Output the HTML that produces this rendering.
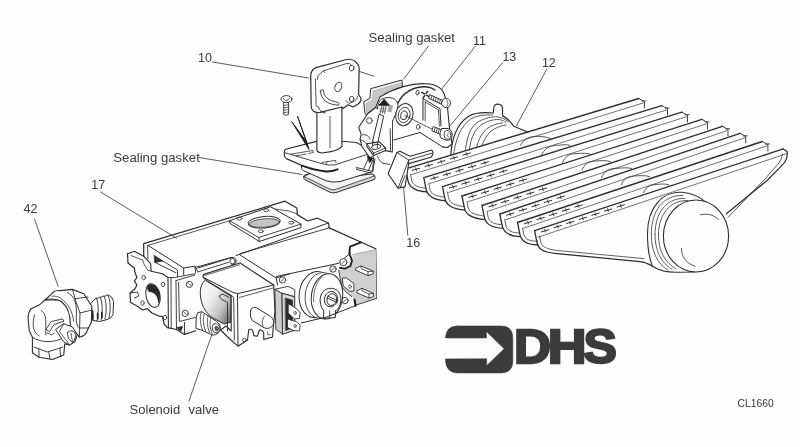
<!DOCTYPE html>
<html><head><meta charset="utf-8"><title>Exploded view CL1660</title>
<style>
html,body{margin:0;padding:0;background:#fefefe;}
body{width:800px;height:447px;overflow:hidden;font-family:"Liberation Sans",sans-serif;}
svg{display:block;will-change:transform;}
svg text{font-family:"Liberation Sans",sans-serif;}
</style></head><body>
<svg width="800" height="447" viewBox="0 0 800 447" stroke-linecap="round" stroke-linejoin="round">
<defs><filter id="soft" x="0" y="0" width="800" height="447" filterUnits="userSpaceOnUse"><feGaussianBlur stdDeviation="0.32"/></filter></defs>
<rect width="800" height="447" fill="#fefefe"/>
<g filter="url(#soft)">
<g id="labels">
<text x="198.1" y="61.8" font-size="12.5" fill="#3a3a3a" >10</text>
<text x="368.5" y="42.3" font-size="13.2" fill="#3a3a3a" >Sealing gasket</text>
<text x="473" y="45" font-size="12.5" fill="#3a3a3a" >11</text>
<text x="502.4" y="60.9" font-size="12.5" fill="#3a3a3a" >13</text>
<text x="541.9" y="66.9" font-size="12.5" fill="#3a3a3a" >12</text>
<text x="113.3" y="162" font-size="13.2" fill="#3a3a3a" >Sealing gasket</text>
<text x="91.2" y="189.2" font-size="12.5" fill="#3a3a3a" >17</text>
<text x="23.6" y="212.5" font-size="12.5" fill="#3a3a3a" >42</text>
<text x="406.2" y="247" font-size="12.5" fill="#3a3a3a" >16</text>
<text x="129.6" y="413.6" font-size="13" fill="#3a3a3a" >Solenoid</text>
<text x="188.6" y="413.6" font-size="13" fill="#3a3a3a" >valve</text>
<text x="737.6" y="407.4" font-size="10.3" fill="#3a3a3a" >CL1660</text>
<line x1="212.5" y1="62.0" x2="308.5" y2="78.0" stroke="#4a4a4a" stroke-width="0.9" />
<line x1="428.4" y1="46.1" x2="403.6" y2="79.1" stroke="#4a4a4a" stroke-width="0.9" />
<line x1="475.0" y1="46.5" x2="442.0" y2="88.7" stroke="#4a4a4a" stroke-width="0.9" />
<line x1="502.6" y1="62.6" x2="449.0" y2="127.0" stroke="#4a4a4a" stroke-width="0.9" />
<line x1="546.6" y1="69.5" x2="516.4" y2="125.9" stroke="#4a4a4a" stroke-width="0.9" />
<line x1="199.0" y1="157.5" x2="302.0" y2="174.5" stroke="#4a4a4a" stroke-width="0.9" />
<line x1="100.5" y1="192.0" x2="173.0" y2="236.0" stroke="#4a4a4a" stroke-width="0.9" />
<line x1="34.5" y1="219.0" x2="58.0" y2="286.0" stroke="#4a4a4a" stroke-width="0.9" />
<line x1="403.6" y1="187.5" x2="407.8" y2="235.3" stroke="#4a4a4a" stroke-width="0.9" />
<line x1="212.0" y1="334.0" x2="189.0" y2="401.0" stroke="#4a4a4a" stroke-width="0.9" />
<line x1="358.7" y1="71.2" x2="373.7" y2="76.2" stroke="#4a4a4a" stroke-width="0.9" />
</g>
<g id="burner">
<path d="M450.6,160 C451,137 458,123 468.7,116.2 C474,113 480,112 493.2,113 L493.8,107.5 Q494.5,104 498,104.2 Q502,104.5 502.5,108 L502.5,115.6 C506,117.5 510,121 513.7,126.2 L530,133 L530,160 Z" stroke="#2e2e2e" stroke-width="1.2" fill="#fefefe" />
<path d="M453.2,158 C455,139 461,126 471.2,118.7 C477,115.5 484,114.5 492.5,115" stroke="#2e2e2e" stroke-width="0.8" fill="none" />
<path d="M465,156 C466,138 470,127 478,122 C485,118 492,116.5 497.5,116.9 C502,117.5 505,119 507.5,121.2" stroke="#2e2e2e" stroke-width="0.8" fill="none" />
<path d="M468.7,155 C470,140 474,130 481,125 C487,121 493,119.5 498.7,119.4 C502,120 504,121 506.2,122.5" stroke="#2e2e2e" stroke-width="0.8" fill="none" />
<path d="M476,152 C477,142 481,134 487,128.5 C492,125 497,123.5 502.5,123" stroke="#2e2e2e" stroke-width="0.8" fill="none" />
<path d="M480,151 C482,143 486,136 491,131 C496,127.5 501,125.5 506,125" stroke="#2e2e2e" stroke-width="0.8" fill="none" />
<path d="M405.6,168.8 L638.75,98.5 L789.1,151.9 L700,215 L650,262 L556.6,252.6 L534.6,242.6 Z" stroke="#2e2e2e" stroke-width="0" fill="#fefefe" />
<path d="M647.5,233.7 C647.5,208 662,191 681.5,192.3 C692,193 700,197 706,202.5 L695,272 L678,272.2 C668,272.5 658,270 652.4,266.2 C649,258 647.5,246 647.5,233.7 Z" stroke="#2e2e2e" stroke-width="1.1" fill="#fefefe" />
<path d="M651.3,234 C651.3,210 664,194.5 683,195.5" stroke="#2e2e2e" stroke-width="0.75" fill="none" />
<path d="M655,234.5 C655,212 667,197.5 685,198.5" stroke="#2e2e2e" stroke-width="0.75" fill="none" />
<path d="M658.5,235 C658.5,214 670,200 688,200.5" stroke="#2e2e2e" stroke-width="0.75" fill="none" />
<path d="M651.3,234 C651.3,251 657,264 668,270" stroke="#2e2e2e" stroke-width="0.75" fill="none" />
<path d="M655,234.5 C655,250 661,263 672,269.5" stroke="#2e2e2e" stroke-width="0.75" fill="none" />
<path d="M658.5,235 C658.5,250 664,262 676,269" stroke="#2e2e2e" stroke-width="0.75" fill="none" />
<ellipse cx="696" cy="236" rx="32.6" ry="36" fill="#fefefe" stroke="#2e2e2e" stroke-width="1.1"/>
<path d="M700.5,214.7 C708,213 715,215.5 718.4,219.4" stroke="#2e2e2e" stroke-width="0.8" fill="none" />
<path d="M681.5,248.3 C681,256 686,263.5 695,266.2" stroke="#2e2e2e" stroke-width="0.8" fill="none" />
<path d="M405.6,168.8 L638.8,98.5 L644.4,101.5 L644.4,107.5 L411.6,182.8 Z" stroke="#2e2e2e" stroke-width="0" fill="#fefefe" />
<path d="M638.8,98.5 L644.4,101.5 L644.4,108.0" stroke="#2e2e2e" stroke-width="0.9" fill="none" />
<path d="M642.1,101.1 L646.0,100.9" stroke="#2e2e2e" stroke-width="0.9" fill="none" />
<line x1="405.6" y1="168.8" x2="638.8" y2="98.5" stroke="#2e2e2e" stroke-width="1.35" />
<line x1="409.1" y1="175.4" x2="643.4" y2="102.9" stroke="#444" stroke-width="0.75" />
<line x1="412.4" y1="170.3" x2="419.8" y2="168.2" stroke="#2e2e2e" stroke-width="1.0" />
<line x1="415.6" y1="167.7" x2="416.6" y2="170.7" stroke="#2e2e2e" stroke-width="0.8" />
<line x1="425.0" y1="166.5" x2="432.4" y2="164.4" stroke="#2e2e2e" stroke-width="1.0" />
<line x1="428.2" y1="163.9" x2="429.2" y2="166.9" stroke="#2e2e2e" stroke-width="0.8" />
<line x1="437.6" y1="162.7" x2="445.0" y2="160.6" stroke="#2e2e2e" stroke-width="1.0" />
<line x1="440.8" y1="160.1" x2="441.8" y2="163.1" stroke="#2e2e2e" stroke-width="0.8" />
<line x1="450.2" y1="158.9" x2="457.6" y2="156.8" stroke="#2e2e2e" stroke-width="1.0" />
<line x1="453.4" y1="156.3" x2="454.4" y2="159.3" stroke="#2e2e2e" stroke-width="0.8" />
<line x1="462.8" y1="155.1" x2="470.2" y2="153.0" stroke="#2e2e2e" stroke-width="1.0" />
<line x1="466.0" y1="152.5" x2="467.0" y2="155.5" stroke="#2e2e2e" stroke-width="0.8" />
<path d="M405.6,168.8 L407.8,179.8 C409.1,187.8 415.6,191.3 427.4,191.8" stroke="#2e2e2e" stroke-width="1.3" fill="#fefefe" />
<path d="M410.6,174.3 L411.6,179.8 C412.6,185.3 417.6,187.8 426.8,188.2" stroke="#2e2e2e" stroke-width="0.75" fill="none" />
<path d="M423.8,177.6 L661.9,105.6 L667.5,108.6 L667.5,114.6 L429.8,191.6 Z" stroke="#2e2e2e" stroke-width="0" fill="#fefefe" />
<path d="M661.9,105.6 L667.5,108.6 L667.5,115.1" stroke="#2e2e2e" stroke-width="0.9" fill="none" />
<path d="M665.3,108.2 L669.1,108.0" stroke="#2e2e2e" stroke-width="0.9" fill="none" />
<line x1="423.8" y1="177.6" x2="661.9" y2="105.6" stroke="#2e2e2e" stroke-width="1.35" />
<line x1="427.3" y1="184.2" x2="666.5" y2="110.0" stroke="#444" stroke-width="0.75" />
<line x1="430.6" y1="179.1" x2="438.0" y2="176.9" stroke="#2e2e2e" stroke-width="1.0" />
<line x1="433.8" y1="176.5" x2="434.8" y2="179.5" stroke="#2e2e2e" stroke-width="0.8" />
<line x1="443.2" y1="175.3" x2="450.6" y2="173.1" stroke="#2e2e2e" stroke-width="1.0" />
<line x1="446.4" y1="172.7" x2="447.4" y2="175.7" stroke="#2e2e2e" stroke-width="0.8" />
<line x1="455.8" y1="171.5" x2="463.2" y2="169.3" stroke="#2e2e2e" stroke-width="1.0" />
<line x1="459.0" y1="168.9" x2="460.0" y2="171.9" stroke="#2e2e2e" stroke-width="0.8" />
<line x1="468.4" y1="167.7" x2="475.8" y2="165.5" stroke="#2e2e2e" stroke-width="1.0" />
<line x1="471.6" y1="165.1" x2="472.6" y2="168.1" stroke="#2e2e2e" stroke-width="0.8" />
<line x1="481.0" y1="163.9" x2="488.4" y2="161.7" stroke="#2e2e2e" stroke-width="1.0" />
<line x1="484.2" y1="161.3" x2="485.2" y2="164.3" stroke="#2e2e2e" stroke-width="0.8" />
<path d="M423.8,177.6 L426.0,188.6 C427.3,196.6 433.8,200.1 446.1,200.8" stroke="#2e2e2e" stroke-width="1.3" fill="#fefefe" />
<path d="M428.8,183.1 L429.8,188.6 C430.8,194.1 435.8,196.6 445.5,197.2" stroke="#2e2e2e" stroke-width="0.75" fill="none" />
<path d="M442.5,186.6 L681.9,112.2 L687.5,115.2 L687.5,121.2 L448.5,200.6 Z" stroke="#2e2e2e" stroke-width="0" fill="#fefefe" />
<path d="M681.9,112.2 L687.5,115.2 L687.5,121.8" stroke="#2e2e2e" stroke-width="0.9" fill="none" />
<path d="M685.3,114.8 L689.1,114.7" stroke="#2e2e2e" stroke-width="0.9" fill="none" />
<line x1="442.5" y1="186.6" x2="681.9" y2="112.2" stroke="#2e2e2e" stroke-width="1.35" />
<line x1="446.0" y1="193.2" x2="686.5" y2="116.7" stroke="#444" stroke-width="0.75" />
<line x1="449.3" y1="188.0" x2="456.7" y2="185.9" stroke="#2e2e2e" stroke-width="1.0" />
<line x1="452.5" y1="185.4" x2="453.5" y2="188.4" stroke="#2e2e2e" stroke-width="0.8" />
<line x1="461.9" y1="184.1" x2="469.3" y2="181.9" stroke="#2e2e2e" stroke-width="1.0" />
<line x1="465.1" y1="181.5" x2="466.1" y2="184.5" stroke="#2e2e2e" stroke-width="0.8" />
<line x1="474.5" y1="180.2" x2="481.9" y2="178.0" stroke="#2e2e2e" stroke-width="1.0" />
<line x1="477.7" y1="177.6" x2="478.7" y2="180.6" stroke="#2e2e2e" stroke-width="0.8" />
<line x1="487.1" y1="176.3" x2="494.5" y2="174.1" stroke="#2e2e2e" stroke-width="1.0" />
<line x1="490.3" y1="173.7" x2="491.3" y2="176.7" stroke="#2e2e2e" stroke-width="0.8" />
<line x1="499.7" y1="172.4" x2="507.1" y2="170.2" stroke="#2e2e2e" stroke-width="1.0" />
<line x1="502.9" y1="169.8" x2="503.9" y2="172.8" stroke="#2e2e2e" stroke-width="0.8" />
<path d="M442.5,186.6 L444.7,197.6 C446.0,205.6 452.5,209.1 465.6,210.2" stroke="#2e2e2e" stroke-width="1.3" fill="#fefefe" />
<path d="M447.5,192.1 L448.5,197.6 C449.5,203.1 454.5,205.6 465.0,206.6" stroke="#2e2e2e" stroke-width="0.75" fill="none" />
<path d="M462.0,196.0 L701.9,119.4 L707.5,122.4 L707.5,128.4 L468.0,210.0 Z" stroke="#2e2e2e" stroke-width="0" fill="#fefefe" />
<path d="M701.9,119.4 L707.5,122.4 L707.5,128.9" stroke="#2e2e2e" stroke-width="0.9" fill="none" />
<path d="M705.3,122.0 L709.1,121.8" stroke="#2e2e2e" stroke-width="0.9" fill="none" />
<line x1="462.0" y1="196.0" x2="701.9" y2="119.4" stroke="#2e2e2e" stroke-width="1.35" />
<line x1="465.5" y1="202.6" x2="706.5" y2="123.8" stroke="#444" stroke-width="0.75" />
<line x1="468.8" y1="197.3" x2="476.2" y2="195.2" stroke="#2e2e2e" stroke-width="1.0" />
<line x1="472.0" y1="194.7" x2="473.0" y2="197.7" stroke="#2e2e2e" stroke-width="0.8" />
<line x1="481.4" y1="193.3" x2="488.8" y2="191.1" stroke="#2e2e2e" stroke-width="1.0" />
<line x1="484.6" y1="190.7" x2="485.6" y2="193.7" stroke="#2e2e2e" stroke-width="0.8" />
<line x1="494.0" y1="189.3" x2="501.4" y2="187.1" stroke="#2e2e2e" stroke-width="1.0" />
<line x1="497.2" y1="186.7" x2="498.2" y2="189.7" stroke="#2e2e2e" stroke-width="0.8" />
<line x1="506.6" y1="185.3" x2="514.0" y2="183.1" stroke="#2e2e2e" stroke-width="1.0" />
<line x1="509.8" y1="182.7" x2="510.8" y2="185.7" stroke="#2e2e2e" stroke-width="0.8" />
<line x1="519.2" y1="181.2" x2="526.6" y2="179.1" stroke="#2e2e2e" stroke-width="1.0" />
<line x1="522.4" y1="178.7" x2="523.4" y2="181.7" stroke="#2e2e2e" stroke-width="0.8" />
<path d="M462.0,196.0 L464.2,207.0 C465.5,215.0 472.0,218.5 485.6,219.7" stroke="#2e2e2e" stroke-width="1.3" fill="#fefefe" />
<path d="M467.0,201.5 L468.0,207.0 C469.0,212.5 474.0,215.0 485.0,216.1" stroke="#2e2e2e" stroke-width="0.75" fill="none" />
<path d="M482.0,205.5 L722.4,126.3 L728.0,129.3 L728.0,135.3 L488.0,219.5 Z" stroke="#2e2e2e" stroke-width="0" fill="#fefefe" />
<path d="M722.4,126.3 L728.0,129.3 L728.0,135.8" stroke="#2e2e2e" stroke-width="0.9" fill="none" />
<path d="M725.8,128.9 L729.6,128.7" stroke="#2e2e2e" stroke-width="0.9" fill="none" />
<line x1="482.0" y1="205.5" x2="722.4" y2="126.3" stroke="#2e2e2e" stroke-width="1.35" />
<line x1="485.5" y1="212.1" x2="727.0" y2="130.7" stroke="#444" stroke-width="0.75" />
<line x1="488.8" y1="206.7" x2="496.2" y2="204.6" stroke="#2e2e2e" stroke-width="1.0" />
<line x1="492.0" y1="204.1" x2="493.0" y2="207.1" stroke="#2e2e2e" stroke-width="0.8" />
<line x1="501.4" y1="202.6" x2="508.8" y2="200.4" stroke="#2e2e2e" stroke-width="1.0" />
<line x1="504.6" y1="200.0" x2="505.6" y2="203.0" stroke="#2e2e2e" stroke-width="0.8" />
<line x1="514.0" y1="198.4" x2="521.4" y2="196.3" stroke="#2e2e2e" stroke-width="1.0" />
<line x1="517.2" y1="195.8" x2="518.2" y2="198.8" stroke="#2e2e2e" stroke-width="0.8" />
<line x1="526.6" y1="194.3" x2="534.0" y2="192.1" stroke="#2e2e2e" stroke-width="1.0" />
<line x1="529.8" y1="191.7" x2="530.8" y2="194.7" stroke="#2e2e2e" stroke-width="0.8" />
<line x1="539.2" y1="190.1" x2="546.6" y2="188.0" stroke="#2e2e2e" stroke-width="1.0" />
<line x1="542.4" y1="187.5" x2="543.4" y2="190.5" stroke="#2e2e2e" stroke-width="0.8" />
<path d="M482.0,205.5 L484.2,216.5 C485.5,224.5 492.0,228.0 503.4,228.2" stroke="#2e2e2e" stroke-width="1.3" fill="#fefefe" />
<path d="M487.0,211.0 L488.0,216.5 C489.0,222.0 494.0,224.5 502.8,224.6" stroke="#2e2e2e" stroke-width="0.75" fill="none" />
<path d="M499.8,214.0 L740.1,133.4 L745.7,136.4 L745.7,142.4 L505.8,228.0 Z" stroke="#2e2e2e" stroke-width="0" fill="#fefefe" />
<path d="M740.1,133.4 L745.7,136.4 L745.7,142.9" stroke="#2e2e2e" stroke-width="0.9" fill="none" />
<path d="M743.5,136.0 L747.3,135.8" stroke="#2e2e2e" stroke-width="0.9" fill="none" />
<line x1="499.8" y1="214.0" x2="740.1" y2="133.4" stroke="#2e2e2e" stroke-width="1.35" />
<line x1="503.3" y1="220.6" x2="744.7" y2="137.8" stroke="#444" stroke-width="0.75" />
<line x1="506.6" y1="215.2" x2="514.0" y2="213.0" stroke="#2e2e2e" stroke-width="1.0" />
<line x1="509.8" y1="212.6" x2="510.8" y2="215.6" stroke="#2e2e2e" stroke-width="0.8" />
<line x1="519.2" y1="210.9" x2="526.6" y2="208.8" stroke="#2e2e2e" stroke-width="1.0" />
<line x1="522.4" y1="208.4" x2="523.4" y2="211.4" stroke="#2e2e2e" stroke-width="0.8" />
<line x1="531.8" y1="206.7" x2="539.2" y2="204.5" stroke="#2e2e2e" stroke-width="1.0" />
<line x1="535.0" y1="204.1" x2="536.0" y2="207.1" stroke="#2e2e2e" stroke-width="0.8" />
<line x1="544.4" y1="202.5" x2="551.8" y2="200.3" stroke="#2e2e2e" stroke-width="1.0" />
<line x1="547.6" y1="199.9" x2="548.6" y2="202.9" stroke="#2e2e2e" stroke-width="0.8" />
<line x1="557.0" y1="198.3" x2="564.4" y2="196.1" stroke="#2e2e2e" stroke-width="1.0" />
<line x1="560.2" y1="195.7" x2="561.2" y2="198.7" stroke="#2e2e2e" stroke-width="0.8" />
<path d="M499.8,214.0 L502.0,225.0 C503.3,233.0 509.8,236.5 521.1,236.7" stroke="#2e2e2e" stroke-width="1.3" fill="#fefefe" />
<path d="M504.8,219.5 L505.8,225.0 C506.8,230.5 511.8,233.0 520.5,233.1" stroke="#2e2e2e" stroke-width="0.75" fill="none" />
<path d="M517.5,222.5 L762.3,141.5 L767.9,144.5 L767.9,150.5 L523.5,236.5 Z" stroke="#2e2e2e" stroke-width="0" fill="#fefefe" />
<path d="M762.3,141.5 L767.9,144.5 L767.9,151.0" stroke="#2e2e2e" stroke-width="0.9" fill="none" />
<path d="M765.7,144.1 L769.5,143.9" stroke="#2e2e2e" stroke-width="0.9" fill="none" />
<line x1="517.5" y1="222.5" x2="762.3" y2="141.5" stroke="#2e2e2e" stroke-width="1.35" />
<line x1="521.0" y1="229.1" x2="766.9" y2="145.9" stroke="#444" stroke-width="0.75" />
<line x1="524.3" y1="223.7" x2="531.7" y2="221.5" stroke="#2e2e2e" stroke-width="1.0" />
<line x1="527.5" y1="221.1" x2="528.5" y2="224.1" stroke="#2e2e2e" stroke-width="0.8" />
<line x1="536.9" y1="219.5" x2="544.3" y2="217.4" stroke="#2e2e2e" stroke-width="1.0" />
<line x1="540.1" y1="217.0" x2="541.1" y2="220.0" stroke="#2e2e2e" stroke-width="0.8" />
<line x1="549.5" y1="215.4" x2="556.9" y2="213.2" stroke="#2e2e2e" stroke-width="1.0" />
<line x1="552.7" y1="212.8" x2="553.7" y2="215.8" stroke="#2e2e2e" stroke-width="0.8" />
<line x1="562.1" y1="211.2" x2="569.5" y2="209.0" stroke="#2e2e2e" stroke-width="1.0" />
<line x1="565.3" y1="208.6" x2="566.3" y2="211.6" stroke="#2e2e2e" stroke-width="0.8" />
<line x1="574.7" y1="207.0" x2="582.1" y2="204.9" stroke="#2e2e2e" stroke-width="1.0" />
<line x1="577.9" y1="204.4" x2="578.9" y2="207.4" stroke="#2e2e2e" stroke-width="0.8" />
<path d="M517.5,222.5 L519.7,233.5 C521.0,241.5 527.5,245.0 538.2,244.8" stroke="#2e2e2e" stroke-width="1.3" fill="#fefefe" />
<path d="M522.5,228.0 L523.5,233.5 C524.5,239.0 529.5,241.5 537.6,241.2" stroke="#2e2e2e" stroke-width="0.75" fill="none" />
<path d="M534.6,230.6 L783.1,148.9 L788.7,151.9 L788.7,153.3 L540.6,237.6 Z" stroke="#2e2e2e" stroke-width="0" fill="#fefefe" />
<line x1="534.6" y1="230.6" x2="783.1" y2="148.9" stroke="#2e2e2e" stroke-width="1.35" />
<line x1="538.1" y1="237.2" x2="787.7" y2="153.3" stroke="#444" stroke-width="0.75" />
<line x1="541.4" y1="231.8" x2="548.8" y2="229.7" stroke="#2e2e2e" stroke-width="1.0" />
<line x1="544.6" y1="229.2" x2="545.6" y2="232.2" stroke="#2e2e2e" stroke-width="0.8" />
<line x1="554.0" y1="227.7" x2="561.4" y2="225.5" stroke="#2e2e2e" stroke-width="1.0" />
<line x1="557.2" y1="225.1" x2="558.2" y2="228.1" stroke="#2e2e2e" stroke-width="0.8" />
<line x1="566.6" y1="223.5" x2="574.0" y2="221.4" stroke="#2e2e2e" stroke-width="1.0" />
<line x1="569.8" y1="221.0" x2="570.8" y2="224.0" stroke="#2e2e2e" stroke-width="0.8" />
<line x1="579.2" y1="219.4" x2="586.6" y2="217.2" stroke="#2e2e2e" stroke-width="1.0" />
<line x1="582.4" y1="216.8" x2="583.4" y2="219.8" stroke="#2e2e2e" stroke-width="0.8" />
<line x1="591.8" y1="215.3" x2="599.2" y2="213.1" stroke="#2e2e2e" stroke-width="1.0" />
<line x1="595.0" y1="212.7" x2="596.0" y2="215.7" stroke="#2e2e2e" stroke-width="0.8" />
<line x1="604.4" y1="211.1" x2="611.8" y2="209.0" stroke="#2e2e2e" stroke-width="1.0" />
<line x1="607.6" y1="208.5" x2="608.6" y2="211.5" stroke="#2e2e2e" stroke-width="0.8" />
<line x1="617.0" y1="207.0" x2="624.4" y2="204.8" stroke="#2e2e2e" stroke-width="1.0" />
<line x1="620.2" y1="204.4" x2="621.2" y2="207.4" stroke="#2e2e2e" stroke-width="0.8" />
<path d="M783.1,148.9 L787.2,151.4 C787.6,156 786.6,160 783.6,163.6 L779,168.4 L767.6,180 L726.4,213.8" stroke="#2e2e2e" stroke-width="1.2" fill="none" />
<path d="M782.4,153.8 C782,158 780.4,161.6 777.7,164.4 L764,180 L728,217.4" stroke="#2e2e2e" stroke-width="0.8" fill="none" />
<path d="M520.5,145.4 C523.5,139.9 526.5,137.0 535.5,136.4 C541.5,136.0 546.5,137.1 550.5,138.5" stroke="#2e2e2e" stroke-width="0.8" fill="none" />
<path d="M541.5,155 C544.5,149.5 547.5,146.0 556.5,145.4 C562.5,145.0 566.0,144.0 570,145.4" stroke="#2e2e2e" stroke-width="0.8" fill="none" />
<path d="M562.5,162.5 C565.5,157.0 567.0,154.1 576,153.5 C582.0,153.1 587.0,153.0 591,154.4" stroke="#2e2e2e" stroke-width="0.8" fill="none" />
<path d="M582,170 C585.0,164.5 586.5,161.6 595.5,161 C601.5,160.6 606.5,160.2 610.5,161.6" stroke="#2e2e2e" stroke-width="0.8" fill="none" />
<path d="M601.5,177.5 C604.5,172.0 606.0,169.1 615,168.5 C621.0,168.1 627.5,167.1 631.5,168.5" stroke="#2e2e2e" stroke-width="0.8" fill="none" />
<path d="M621,185 C624.0,179.5 625.5,176.6 634.5,176 C640.5,175.6 645.5,175.2 649.5,176.6" stroke="#2e2e2e" stroke-width="0.8" fill="none" />
<path d="M643.5,192.5 C646.5,187.0 648.0,185.0 657,184.4 C663.0,184.0 665.0,183.6 669,185" stroke="#2e2e2e" stroke-width="0.8" fill="none" />
<path d="M534.6,230.6 L536.8,241.6 C538.1,249.6 543.6,252.1 554.6,253.4 L640,261.6 C645,262 648,263.5 652.4,266.2" stroke="#2e2e2e" stroke-width="1.3" fill="none" />
<path d="M539.6,236.1 L540.6,241.6 C541.6,246.6 546.6,249.1 556.6,250.4 L644,258.6" stroke="#2e2e2e" stroke-width="0.75" fill="none" />
</g>
<g id="bracket">
<path d="M303.6,176.6 Q303.4,175.4 305,175 L312,172.6 L340,178 L372,174 Q375.4,174.6 375.2,177.6 L374.6,179.4 L336,192.6 Q332.5,193.4 329.4,192 L305,179.8 Q303.6,179 303.6,176.6 Z" stroke="#2e2e2e" stroke-width="1.0" fill="#d6d6d6" />
<path d="M304.4,176.4 L312,172.6 L340,178 L372,174 L374.2,176 L335.6,189.4 Q332.5,190.2 329.6,189 Z" stroke="#2e2e2e" stroke-width="0.8" fill="#f3f3f3" />
<path d="M301.2,164 L301.6,168.6 Q301.8,170 303.4,170.6 L326.2,180.8 Q332,182.8 340,181.6 L372.6,171.6 L373.6,158 L340,160 Z" stroke="#2e2e2e" stroke-width="1.0" fill="#fefefe" />
<path d="M285.6,149.3 L316.5,141.4 L342,141.3 L356.3,142.5 L373.4,151.6 L373.4,158 L337.5,169.3 Q331,171.6 325,170.8 L300.6,164.9 L286.3,158.6 Q284.2,157.4 284.3,154.6 L284.4,152 Q284.4,150 285.6,149.3 Z" stroke="#2e2e2e" stroke-width="0" fill="#fefefe" />
<path d="M373.4,158 L373.4,151.6 L356.3,142.5 L342,141.3 M316.5,141.4 L285.6,149.3 Q284.4,150 284.4,152 L284.3,154.6 Q284.2,157.4 286.3,158.6 L300.6,164.9" stroke="#2e2e2e" stroke-width="1.15" fill="none" />
<path d="M285.2,152.8 L321.3,163.5 Q328,166 335,164.8 L372.8,152.6" stroke="#2e2e2e" stroke-width="0.9" fill="none" />
<path d="M301.9,165.6 Q315,170.4 326,171.4 Q332,171.6 337.5,169.3" stroke="#1f1f1f" stroke-width="2.0" fill="none" />
<path d="M290.6,154.2 L313,150.5 L313.4,152.6 L309,153.4 M296,155.8 L306,154.2" stroke="#2e2e2e" stroke-width="0.8" fill="none" />
<path d="M321.9,162.4 L335.6,160.4 L336,162.6 M326,164.4 L327,162 " stroke="#2e2e2e" stroke-width="0.8" fill="none" />
<path d="M316.9,112 L316.9,150.6 Q318,153 322,153 L331,151.6 Q338,150.4 341.9,146.4 L341.9,106.5 Z" stroke="#2e2e2e" stroke-width="1.15" fill="#fefefe" />
<path d="M330,116.4 L330,147.6" stroke="#2e2e2e" stroke-width="0.8" fill="none" />
<path d="M310.7,76 Q310.7,70 316,67.6 L346.5,59.5 Q352,58.4 355.6,61.8 L358,64.6 Q359.4,66.4 359.2,69 L358.6,94.5 L361,98.3 Q361.4,102 357.7,104.3 L353,107 L348.3,104.8 L343,108.4 L342,107 L320,112.4 Q311.4,113.4 311.2,106 Z" stroke="#2e2e2e" stroke-width="1.2" fill="#fefefe" />
<path d="M315.4,78.8 L316.1,106" stroke="#2e2e2e" stroke-width="0.8" fill="none" />
<path d="M317.4,79.5 L318.1,75.5 L323.5,70.8 L324.4,72.4 M323.5,70.8 L347,63.4 Q350,62.8 351.2,64.8" stroke="#2e2e2e" stroke-width="0.8" fill="none" />
<ellipse cx="338.3" cy="86.9" rx="3.2" ry="4.9" transform="rotate(22 338.3 86.9)" fill="none" stroke="#2e2e2e" stroke-width="0.9"/>
<ellipse cx="351.7" cy="68.1" rx="2.3" ry="2.9" transform="rotate(20 351.7 68.1)" fill="none" stroke="#2e2e2e" stroke-width="0.9"/>
<ellipse cx="351.7" cy="99" rx="2.3" ry="2.6" fill="none" stroke="#2e2e2e" stroke-width="0.9"/>
<path d="M320.4,91 Q321.4,88.6 323.4,90.2 C323.6,96.6 328,100.6 338,102.4 Q339.8,103.6 338.6,105.2 C328,104.6 320.8,100 320.4,91 Z" stroke="#2e2e2e" stroke-width="0.9" fill="none" />
<path d="M316.6,107 Q317.4,105.4 318.6,107 Q319.4,112 325.4,113" stroke="#2e2e2e" stroke-width="0.9" fill="none" />
<path d="M345.6,100.6 L349,103.4 L354.4,101.4 Q357,100 357.6,96.4" stroke="#2e2e2e" stroke-width="0.8" fill="none" />
<path d="M291.9,121.9 L309,149.6 L306.9,142.5 L297.5,116.2 L306,141 Z" stroke="#1c1c1c" stroke-width="0.9" fill="#1c1c1c" />
<ellipse cx="286.4" cy="99.1" rx="5.5" ry="3.5" fill="#fefefe" stroke="#2e2e2e" stroke-width="0.95"/>
<path d="M283.2,98.4 L286.2,101 L289.8,98.2" stroke="#2e2e2e" stroke-width="0.8" fill="none" />
<path d="M283.7,102.6 L283.7,114.4 Q286.2,116 288.6,114.4 L288.6,102.6" stroke="#2e2e2e" stroke-width="0.9" fill="none" />
<path d="M283.8,105.4 L288.5,104.8 M283.8,107.8 L288.5,107.2 M283.8,110.2 L288.5,109.6 M283.8,112.6 L288.5,112" stroke="#2e2e2e" stroke-width="0.7" fill="none" />
</g>
<g id="housing">
<path d="M365,113.4 L363.7,101.9 L370,98.1 L370.6,88.7 L401.9,80 L402.6,87.4 L420,92 L400,118 L372,120 Z" stroke="#2e2e2e" stroke-width="1.0" fill="#f2f2f2" />
<path d="M367,114 L366.2,103.2 L372.5,100 L373.5,90.8 L401,83 L402,88 L420,92 L400,118 L372,120 Z" stroke="#9a9a9a" stroke-width="0.5" fill="#c6c6c6" />
<path d="M380,96.9 C388,92 395,89 402.5,86.9 C410,84.6 420,83.4 426.2,83.7 C434,84 440,87 442.5,90.6 C444.5,93.5 445,96 445.6,99 L447.5,107.5 L449.5,128 L452,144 L447.5,147.5 L442.5,146.9 L420,140 L393.7,146 L392.5,152 L370,158 L361.9,146.2 L360,139.4 L361.2,134.4 L358.7,127.5 L365.6,116.9 L367.5,113.7 L375.6,107.5 Z" stroke="#2e2e2e" stroke-width="0" fill="#fefefe" />
<path d="M392.5,152 L385.6,150.6 M373.7,155.6 L370,158 L361.9,146.2 L360,139.4 L361.2,134.4 L358.7,127.5 L365.6,116.9 L367.5,113.7 L375.6,107.5 L380,96.9 C388,92 395,89 402.5,86.9 C410,84.6 420,83.4 426.2,83.7 C434,84 440,87 442.5,90.6 C444.5,93.5 445,96 445.6,99 L447.5,107.5 L449.5,128 L452,144 L447.5,147.5 L442.5,146.9" stroke="#2e2e2e" stroke-width="1.1" fill="none" />
<path d="M398,103 C401,97 404,94 407.5,91.9 C411,89.6 415,88 417.5,87.5 C421,86.6 425,86.6 427.5,86.9 C430.5,87.4 433,88.4 435,90" stroke="#2e2e2e" stroke-width="1.5" fill="none" />
<path d="M377.5,108.7 C378,103 380,100 381.9,99.2 C385,97.4 389,97.2 392.5,98.1 C396,99.6 398,102 398,105.4 C397.6,110 395,116 392.5,121.2" stroke="#2e2e2e" stroke-width="1.0" fill="none" />
<path d="M388.6,104.6 L393,105.6 L391.4,112.6 L387.4,111.6 Z" stroke="#2e2e2e" stroke-width="0" fill="#a9a9a9" />
<path d="M384,99.6 L379,105.2 L389,105.2 Z" stroke="#1f1f1f" stroke-width="1.0" fill="#1f1f1f" />
<path d="M381.9,106 L380.2,113.4 M386.2,106 L384.6,113.6 M384,106 L382.6,113" stroke="#2e2e2e" stroke-width="0.8" fill="none" />
<path d="M380,108.6 L386,109.2 M379.6,111 L385.6,111.6" stroke="#555" stroke-width="0.6" fill="none" />
<path d="M379,114.6 L372.5,141.4 L377.5,143.8 L383.6,116.4 Z" stroke="#2e2e2e" stroke-width="1.0" fill="#fefefe" />
<circle cx="369.4" cy="120.6" r="2.9" fill="none" stroke="#2e2e2e" stroke-width="0.9"/>
<path d="M367.5,113.7 L375.6,107.5 L377.5,108.7" stroke="#2e2e2e" stroke-width="1.0" fill="none" />
<path d="M362.5,134.8 C366,134 369,136 370,139 M360.6,139.6 C364,141 366,143 366.9,144" stroke="#2e2e2e" stroke-width="0.9" fill="none" />
<path d="M366.9,143.7 L379.4,141.9 L385.6,148 L385.6,150.6 L373.7,155.6 L366.9,146.4 Z" stroke="#2e2e2e" stroke-width="1.1" fill="#fefefe" />
<path d="M366.9,143.7 L373.7,153 L385.6,148 M373.7,153 L373.7,155.6" stroke="#2e2e2e" stroke-width="0.9" fill="none" />
<ellipse cx="376.2" cy="146.8" rx="4.6" ry="2.4" transform="rotate(-12 376.2 146.8)" fill="none" stroke="#2e2e2e" stroke-width="0.9"/>
<path d="M372.8,141.6 L372.4,146.2 M377.6,143.4 L377.2,147.6" stroke="#2e2e2e" stroke-width="0.9" fill="none" />
<path d="M367.4,156 L372.6,158.4 L369.8,162.6 Z" stroke="#161616" stroke-width="0.8" fill="#161616" />
<path d="M368.4,158.4 L363.7,168.7 M372.8,160 L368.6,170.2 M375,158.7 L373,170" stroke="#2e2e2e" stroke-width="0.9" fill="none" />
<path d="M356.9,167.6 L371.2,171.2 L373,170 M356.9,167.6 L356.6,169.4 L370.6,173" stroke="#2e2e2e" stroke-width="0.9" fill="none" />
<path d="M377.5,156.2 C379,160 381,163 384,163.6 L390,164.4" stroke="#2e2e2e" stroke-width="0.9" fill="none" />
<path d="M392.5,121.2 L392.5,151.2 M390.2,128.7 L390.6,151.2" stroke="#2e2e2e" stroke-width="0.9" fill="none" />
<path d="M393.7,140 L420,132.5 L442.5,146.9" stroke="#2e2e2e" stroke-width="1.0" fill="none" />
<ellipse cx="404.4" cy="114.6" rx="8.6" ry="11.2" transform="rotate(14 404.4 114.6)" fill="#fefefe" stroke="#2e2e2e" stroke-width="1.0"/>
<ellipse cx="404.2" cy="115" rx="5.8" ry="7.8" transform="rotate(14 404.2 115)" fill="none" stroke="#2e2e2e" stroke-width="0.8"/>
<ellipse cx="404" cy="115.4" rx="3.2" ry="4.4" transform="rotate(14 404 115.4)" fill="none" stroke="#2e2e2e" stroke-width="0.9"/>
<line x1="405.0" y1="115.6" x2="432.5" y2="129.4" stroke="#2e2e2e" stroke-width="0.8" />
<ellipse cx="417.5" cy="92.6" rx="1.5" ry="2.4" transform="rotate(15 417.5 92.6)" fill="none" stroke="#2e2e2e" stroke-width="0.8"/>
<ellipse cx="418.2" cy="126.9" rx="1.8" ry="2.5" transform="rotate(15 418.2 126.9)" fill="none" stroke="#2e2e2e" stroke-width="0.8"/>
<path d="M423,98.7 L423,120 M423,98.7 L440,108.7 L441,126" stroke="#2e2e2e" stroke-width="1.0" fill="none" />
<path d="M425.2,102 L425.2,121 M425.2,102 L438.4,109.8 L439.4,126" stroke="#2e2e2e" stroke-width="0.8" fill="none" />
<path d="M421.8,92.4 L424.4,93.8 M426.6,95.2 L429.4,96.8 M427.6,91.4 L426,93.4 M424.6,95.6 L423.2,97.8" stroke="#2e2e2e" stroke-width="1.5" fill="none" />
<path d="M430,94.8 L442.6,100.4 L441.4,104.2 L428.8,98.4 Z" stroke="#2e2e2e" stroke-width="0.9" fill="#fefefe" />
<path d="M432,95.7 L430.8,99.4 M434.2,96.7 L433,100.4 M436.4,97.6 L435.2,101.4 M438.6,98.6 L437.4,102.4 M440.6,99.5 L439.4,103.3" stroke="#2e2e2e" stroke-width="0.8" fill="none" />
<path d="M442.6,100.4 C443.4,98 446,97.6 448.6,99.2 C451,101 451,104.6 449,106.8 C446.6,108.6 443.6,107.6 441.4,104.2 Z" stroke="#2e2e2e" stroke-width="1.0" fill="#fefefe" />
<path d="M446.4,99.6 C448.4,101.6 448.4,104.6 446.6,106.6" stroke="#2e2e2e" stroke-width="0.7" fill="none" />
<path d="M433.6,126.6 L442,130 L440.6,134.4 L432.2,130.8 Z" stroke="#2e2e2e" stroke-width="0.9" fill="#fefefe" />
<path d="M435.4,127.4 L434,131.6 M437.4,128.2 L436,132.4 M439.4,129 L438,133.2" stroke="#2e2e2e" stroke-width="0.8" fill="none" />
<path d="M442,128.6 L447,128.4 C451,129 452.6,132.6 452,136 C451.4,139.6 448.6,141 445.6,140 L440.4,137.6 C439.6,134 440,130.6 442,128.6 Z" stroke="#2e2e2e" stroke-width="1.0" fill="#fefefe" />
<ellipse cx="447.6" cy="134.8" rx="3.4" ry="4.4" transform="rotate(-10 447.6 134.8)" fill="none" stroke="#2e2e2e" stroke-width="0.8"/>
<path d="M448.6,133 C447,133.4 446.6,136 448.2,136.8" stroke="#2e2e2e" stroke-width="0.7" fill="none" />
<path d="M396.9,152.5 L400,151.2 L410,156.2 L431.9,150 L433.1,152.5 L431.6,157 L408.7,163.6 L405,186.9 L398.1,188.1 L388.1,173.7 Z" stroke="#2e2e2e" stroke-width="1.1" fill="#fefefe" />
<path d="M396.9,152.5 L408.7,160 L398.1,188.1 M408.7,160 L431.9,153.2 M408.7,160 L408.7,163.6 M405,175.6 L400.4,186.9" stroke="#2e2e2e" stroke-width="0.9" fill="none" />
</g>
<defs><linearGradient id="coil" x1="0" y1="0" x2="1" y2="0.9"><stop offset="0" stop-color="#fefefe"/><stop offset="0.4" stop-color="#f0f0f0"/><stop offset="0.7" stop-color="#c4c4c4"/><stop offset="1" stop-color="#6c6c6c"/></linearGradient></defs>
<g id="valve">
<path d="M143.7,243.7 L285,201.2 L296.8,208 L297.3,214.6 L307.7,221 L317.4,218.2 L328.5,223 L329.2,227.9 L375.7,248.7 L376.4,298.4 L354.4,306.4 L301,323 L300,331 L282.9,334.4 L276,329.6 L273,337 L263.7,339.6 L263.7,332.5 L259.4,330 L257.5,336.2 L253.7,335.6 L251.2,328.7 L248.7,330 L247.5,340 L238,346.4 L228.7,338 L220.6,330 L215.6,334 L201.8,330.4 L195.6,330.7 L184.5,334.4 L176.5,329.5 L167.3,327.6 L164.2,324 L162.4,316.5 L159.4,316.2 L151.9,313 L147.5,308.7 L142.5,310 L137.5,306.2 L130.6,302.5 L130,293 L135,288.7 L134.4,268 L128,263 L127.5,253.7 L134.4,251.2 L143.7,256.2 Z" stroke="#2e2e2e" stroke-width="0" fill="#fefefe" />
<path d="M143.7,256.2 L143.7,243.7 L285,201.2 L296.8,208 L297.3,214.6 L307.7,221 L317.4,218.2 L328.5,223 L329.2,227.9 L375.7,248.7 L376.4,298.4" stroke="#2e2e2e" stroke-width="1.25" fill="none" />
<path d="M148,245.4 L229.6,220.8 M270.5,206.8 L274.6,208.9 L288.5,211 L297,213.8" stroke="#2e2e2e" stroke-width="0.8" fill="none" />
<path d="M147.5,245.6 L148,258.7" stroke="#2e2e2e" stroke-width="0.9" fill="none" />
<path d="M148,245.4 L183.7,268 L183.7,275 M183.7,268 L195,266.2 L197.5,271.2" stroke="#2e2e2e" stroke-width="1.0" fill="none" />
<path d="M198,268 L232,257.4 M236,255.6 L328.5,223" stroke="#2e2e2e" stroke-width="1.0" fill="none" />
<path d="M197.5,272 L229,262.2 M240,253.6 L329.2,227.9" stroke="#2e2e2e" stroke-width="0.9" fill="none" />
<path d="M195,267.5 L231.2,257.5 Q234.6,256.8 236,259.4 L236,262.6 Q234.6,265 231.6,264.4" stroke="#2e2e2e" stroke-width="1.0" fill="none" />
<path d="M195.6,272.5 L195.2,267.4" stroke="#2e2e2e" stroke-width="0.9" fill="none" />
<circle cx="232.5" cy="261.2" r="2.7" fill="#fefefe" stroke="#2e2e2e" stroke-width="0.9"/>
<path d="M229.6,220.7 L270.5,206.8 L301,224.1 L301,227.6 L259.4,241.5 L230.3,223.6 Z" stroke="#2e2e2e" stroke-width="1.0" fill="#fefefe" />
<path d="M229.6,220.7 L258.7,237.5 L301,224.1 M258.7,237.5 L259.4,241.5" stroke="#2e2e2e" stroke-width="0.9" fill="none" />
<ellipse cx="264.2" cy="222.2" rx="16" ry="5.7" transform="rotate(-5 264.2 222)" fill="#fefefe" stroke="#2e2e2e" stroke-width="1.0"/>
<ellipse cx="264.4" cy="223" rx="15" ry="4.2" transform="rotate(-5 264.4 223.2)" fill="#c4c4c4" stroke="#2e2e2e" stroke-width="0.7"/>
<ellipse cx="239.3" cy="218.6" rx="2.5" ry="1.5" fill="none" stroke="#2e2e2e" stroke-width="0.8"/>
<ellipse cx="266.3" cy="210.3" rx="2.5" ry="1.5" fill="none" stroke="#2e2e2e" stroke-width="0.8"/>
<ellipse cx="291.3" cy="222.7" rx="2.5" ry="1.5" fill="none" stroke="#2e2e2e" stroke-width="0.8"/>
<ellipse cx="260.8" cy="231.2" rx="2.5" ry="1.5" fill="none" stroke="#2e2e2e" stroke-width="0.8"/>
<path d="M154.4,255.6 L162.8,261 L155,262.4 Z" stroke="#222" stroke-width="0.8" fill="#333" />
<path d="M155,262.4 L176,272.8 M162.8,261 L177.5,270 L177.5,277" stroke="#2e2e2e" stroke-width="0.9" fill="none" />
<path d="M127.5,253.7 L134.4,251.2 L143.7,256.2 L150.6,263.7 L151.2,271.2 L162.5,273.7 L168,277.5 L168.4,327.8" stroke="#2e2e2e" stroke-width="1.1" fill="none" />
<path d="M127.5,253.7 L128,263 L134.4,268 L135,272.5 L136.9,277.5 L134.4,281.2 L136.9,285 L135,288.7 L130,293 L130.6,302.5 L137.5,306.2 L142.5,310 L147.5,308.7 L151.9,313 L159.4,316.2 L162.4,316.5 L164.2,324 L167.3,327.6 L176.5,329.5 L184.5,334.4 L195.6,330.7" stroke="#2e2e2e" stroke-width="1.2" fill="none" />
<path d="M131.2,255.6 L142.5,260 L144.4,265 L148,270.4 L151.2,271.2" stroke="#2e2e2e" stroke-width="0.8" fill="none" />
<path d="M130,293 L137.5,292 L138.7,296.2 L134.4,298" stroke="#2e2e2e" stroke-width="0.9" fill="none" />
<ellipse cx="153" cy="295.6" rx="7" ry="12" transform="rotate(-12 153 295.6)" fill="#fefefe" stroke="#2e2e2e" stroke-width="1.0"/>
<path d="M147,286.6 C149,283.4 154,284 157,288 C160,292 160.6,299 158.6,302.6 C158,296 155,291.6 149,291.4 Z" stroke="#222" stroke-width="0.8" fill="#2a2a2a" />
<ellipse cx="143.7" cy="277.5" rx="1.7" ry="2.3" fill="none" stroke="#2e2e2e" stroke-width="0.8"/>
<ellipse cx="163" cy="284.4" rx="1.7" ry="2.3" fill="none" stroke="#2e2e2e" stroke-width="0.8"/>
<ellipse cx="142.5" cy="303" rx="1.7" ry="2.3" fill="none" stroke="#2e2e2e" stroke-width="0.8"/>
<ellipse cx="165" cy="317.5" rx="1.7" ry="2.3" fill="none" stroke="#2e2e2e" stroke-width="0.8"/>
<path d="M171,277.8 L171.2,328.4" stroke="#2e2e2e" stroke-width="0.9" fill="none" />
<path d="M184.5,322.4 L184.5,334.4" stroke="#2e2e2e" stroke-width="0.9" fill="none" />
<path d="M176.5,327.6 L182.7,326.4 L180.9,330.9 Z" stroke="#222" stroke-width="0.6" fill="#2a2a2a" />
<path d="M168,277.5 L174.4,277.5 L195,273.7" stroke="#2e2e2e" stroke-width="0.9" fill="none" />
<path d="M176,280.6 L195,275 M178.6,282.5 L179.4,321.5 L196.3,317.2 M176,280.6 L176.5,329.5" stroke="#2e2e2e" stroke-width="0.9" fill="none" />
<circle cx="189.4" cy="284.4" r="3.1" fill="none" stroke="#2e2e2e" stroke-width="0.9"/>
<circle cx="185.2" cy="313.4" r="3.2" fill="none" stroke="#2e2e2e" stroke-width="0.9"/>
<path d="M188,283 L191,285.6 M183.8,312 L186.8,314.6" stroke="#2e2e2e" stroke-width="0.7" fill="none" />
<path d="M196.3,317.2 L197.5,312.9 L201.8,311.6 L216.6,321.5 C220.6,324 221.4,329.6 218.6,332.4 C216.6,334.6 214,335.4 212.3,335 L201.8,330.2 L196.3,328.5 Z" stroke="#2e2e2e" stroke-width="1.0" fill="#fefefe" />
<path d="M201.4,312 C199.6,316 200,324 202.4,329.6 M204.4,313.6 C202.6,318 203.2,325 205.6,331 M208.2,316.2 C206.6,320 207.2,327 209.6,332.6 M210.8,318 C209.4,322 210,328.6 212.3,334" stroke="#2e2e2e" stroke-width="0.8" fill="none" />
<ellipse cx="216" cy="328.3" rx="3.7" ry="4.7" transform="rotate(-18 216 328.3)" fill="#fefefe" stroke="#2e2e2e" stroke-width="1.0"/>
<ellipse cx="216.6" cy="328.6" rx="1.7" ry="2.5" transform="rotate(-18 216.6 328.6)" fill="#666" stroke="#2e2e2e" stroke-width="0.6"/>
<path d="M206,279.4 C201,283 199.6,290 200.6,297 C201.6,306 206,313 212,317.4 L224,324 L231,322 L231,295 Z" stroke="#2e2e2e" stroke-width="1.0" fill="url(#coil)" />
<path d="M203,277 Q202.6,274.6 206,273.6 L240,263 L273.7,285 L275,311 L273,330 L272.5,337 L263.7,339.4 L263.7,332.5 Q262,329.4 259.4,330 L257.5,336.2 L253.7,335.6 L253,331.2 Q251.2,328 248.7,330 L247.5,340 L238,346.2 L228.7,338 L220.6,330 L226,326 L231.2,331 L231.2,296 L207,281 Z" stroke="#2e2e2e" stroke-width="1.1" fill="#fefefe" />
<path d="M204.4,278 L233,292.5 L237.5,293.7 L273.7,285 M237.5,293.7 L238,346" stroke="#2e2e2e" stroke-width="1.0" fill="none" />
<path d="M207,281 L231,295 Q233.7,296.4 233.7,299 L234.4,340" stroke="#2e2e2e" stroke-width="0.9" fill="none" />
<path d="M239.4,297.5 L273,288" stroke="#2e2e2e" stroke-width="0.8" fill="none" />
<path d="M205,275.4 L239.6,264.8" stroke="#2e2e2e" stroke-width="0.7" fill="none" />
<path d="M219.4,296.2 Q220.4,293.4 223.4,294.4 L229,297.4 M219.4,296.2 Q219.6,298 222,299.6 L227.5,302.5 L227.5,331" stroke="#2e2e2e" stroke-width="0.9" fill="none" />
<circle cx="244.4" cy="340" r="1.8" fill="none" stroke="#2e2e2e" stroke-width="0.8"/>
<path d="M267.6,332 L267.8,335 L270,334.6" stroke="#2e2e2e" stroke-width="0.7" fill="none" />
<path d="M250.6,311 C251,307.6 254,306.4 257,308 L270.4,316.4 C273.6,318.6 274.6,322.6 272.6,325.6 C270.6,328.6 266.6,329 263.7,327.5 L252.6,320.6 C250.4,318.6 250,314.6 250.6,311 Z" stroke="#2e2e2e" stroke-width="1.0" fill="#fefefe" />
<path d="M264.4,316.4 C261.6,319.6 261.6,324.6 263.7,327.5" stroke="#2e2e2e" stroke-width="0.8" fill="none" />
<path d="M240,255 L276.2,278 L290,273.7 M276.2,278 L277.5,285 M276.2,276.5 L338.7,263.3 L350.7,252.8" stroke="#2e2e2e" stroke-width="1.0" fill="none" />
<path d="M275,279.4 L307.7,267" stroke="#2e2e2e" stroke-width="0.0" fill="none" />
<circle cx="282.5" cy="280" r="3.2" fill="#fefefe" stroke="#2e2e2e" stroke-width="0.9"/>
<line x1="280.9" y1="281.2" x2="284.1" y2="278.8" stroke="#2e2e2e" stroke-width="0.7" />
<circle cx="333" cy="269" r="3.2" fill="#fefefe" stroke="#2e2e2e" stroke-width="0.9"/>
<line x1="331.4" y1="270.2" x2="334.6" y2="267.8" stroke="#2e2e2e" stroke-width="0.7" />
<circle cx="343.4" cy="262.2" r="3.6" fill="#fefefe" stroke="#2e2e2e" stroke-width="0.9"/>
<line x1="341.8" y1="263.4" x2="345.0" y2="261.0" stroke="#2e2e2e" stroke-width="0.7" />
<circle cx="345" cy="300.6" r="3.2" fill="#fefefe" stroke="#2e2e2e" stroke-width="0.9"/>
<line x1="343.4" y1="301.8" x2="346.6" y2="299.4" stroke="#2e2e2e" stroke-width="0.7" />
<path d="M352.6,254.6 L375.9,249.6 L376.4,298.4 L354.6,305.6 L354.6,299.4 L351.8,296.6 L346,292 L342,287 L338.7,270.3 L347.7,268.9 L352,262 Z" stroke="#2e2e2e" stroke-width="0" fill="#d0d0d0" />
<path d="M376.4,298.4 L354.6,305.6 M351.8,296.6 L346,292 L342,287 L338.7,270.3" stroke="#2e2e2e" stroke-width="0.9" fill="none" />
<path d="M352.6,254.6 L375.9,249.6" stroke="#8a8a8a" stroke-width="0.6" fill="none" />
<path d="M361,242.4 L350,246.6 L349.3,253.5 L352,260.5 L350.4,266 L345,268.6 L340,268" stroke="#222" stroke-width="1.9" fill="none" />
<path d="M354.5,299.6 L355.6,305.6" stroke="#222" stroke-width="2.2" fill="none" />
<path d="M356,268 L361,266 L373.3,271.2 L373.3,273.7 L368,275.6 L356,270.4 Z" stroke="#2e2e2e" stroke-width="0.9" fill="#fefefe" />
<path d="M361,266 L361.2,268.6 L368,271.6 L368,275.6 M368,271.6 L373.3,271.2" stroke="#2e2e2e" stroke-width="0.8" fill="none" />
<path d="M342.8,278 L346.4,277.9 L353.9,283.6 L353.9,291 L350,291.4 L343.4,286 Z" stroke="#2e2e2e" stroke-width="0.9" fill="#fefefe" />
<ellipse cx="350" cy="286.6" rx="1.3" ry="1.8" fill="none" stroke="#2e2e2e" stroke-width="0.7"/>
<path d="M357.4,290.6 L362,288.3 L373.3,293.4 L373.3,296.6 L369,298 L357.4,293 Z" stroke="#2e2e2e" stroke-width="0.9" fill="#fefefe" />
<path d="M362,288.3 L362.2,291 L369,294 L369,298 M369,294 L373.3,293.4" stroke="#2e2e2e" stroke-width="0.8" fill="none" />
<ellipse cx="316.4" cy="294.6" rx="17.2" ry="23.2" transform="rotate(8 316.4 294.6)" fill="#fefefe" stroke="#2e2e2e" stroke-width="1.0"/>
<ellipse cx="321.4" cy="295.4" rx="16.2" ry="23" transform="rotate(8 321.4 295.4)" fill="#fefefe" stroke="#2e2e2e" stroke-width="0.8"/>
<ellipse cx="327" cy="296.4" rx="15.6" ry="22.8" transform="rotate(8 327 296.4)" fill="#fefefe" stroke="#2e2e2e" stroke-width="1.0"/>
<path d="M313.6,302 C313,292 316,282 322,277" stroke="#2e2e2e" stroke-width="0.7" fill="none" />
<path d="M323.6,310.6 C319.6,306 319,298 322,293 C325,288 332,287 336.6,290 C341.4,293.4 342,301 339.4,306.4 C338,309.4 336.6,310.4 335.4,310.6 L335.4,317.6 L323.8,318.4 Z" stroke="#2e2e2e" stroke-width="1.0" fill="#fefefe" />
<ellipse cx="331" cy="299.2" rx="6.6" ry="7.8" transform="rotate(15 331 299.2)" fill="#fefefe" stroke="#2e2e2e" stroke-width="0.9"/>
<ellipse cx="331.8" cy="299.6" rx="4.8" ry="6" transform="rotate(15 331.8 299.6)" fill="#fefefe" stroke="#2e2e2e" stroke-width="0.9"/>
<path d="M327.2,298 L337.4,302.6 M327.8,296.2 L338,300.8" stroke="#2e2e2e" stroke-width="0.9" fill="none" />
<path d="M329.6,311 L329.8,317.8" stroke="#2e2e2e" stroke-width="0.8" fill="none" />
<path d="M301,323 L326.6,317 L351.5,307.2 L354.4,306.4" stroke="#2e2e2e" stroke-width="1.0" fill="none" />
<path d="M275.3,289.2 L282.2,293.3 L282.9,334.2 L276,329.4 Z" stroke="#2e2e2e" stroke-width="0.9" fill="#cdcdcd" />
<path d="M275.3,289.2 L288,286.4 L294.7,289.6 L294.7,296.8 L282.2,293.3 Z" stroke="#2e2e2e" stroke-width="0.9" fill="#fefefe" />
<path d="M282.2,293.3 L294.7,296.8 L294.7,330.2 L282.9,334.2 Z" stroke="#2e2e2e" stroke-width="1.0" fill="#dcdcdc" />
<path d="M285.4,298 L292.6,300.2 L292.6,328 L285.8,330.4 Z" stroke="#2e2e2e" stroke-width="0.7" fill="#2b2b2b" />
<path d="M288.4,303.7 L297.4,309.3 L300.2,312.7 L299.5,318.3 L294.7,319 L288.4,313.4 Z" stroke="#2e2e2e" stroke-width="0.9" fill="#fefefe" />
<ellipse cx="295" cy="312.9" rx="1.2" ry="1.6" fill="none" stroke="#2e2e2e" stroke-width="0.7"/>
<path d="M287.7,319 L296.8,321.8 L300.2,325.2 L299.5,330.8 L294,330.8 L287.7,327.6 Z" stroke="#2e2e2e" stroke-width="0.9" fill="#fefefe" />
<ellipse cx="295" cy="326" rx="1.2" ry="1.6" fill="none" stroke="#2e2e2e" stroke-width="0.7"/>
<line x1="172.0" y1="235.4" x2="176.6" y2="238.2" stroke="#4a4a4a" stroke-width="0.9" />
</g>
<g id="fitting">
<path d="M90.6,303.6 L95,299 Q96.4,297.4 98,298.4 Q99.4,296.4 101.4,297.2 Q103,295.4 105,296.2 Q106.6,294.6 108.5,295 Q112,296 113.6,301.3 L113,314.8 Q111,318.6 107,319.6 L99.5,321.5 L92.8,320.4 Z" stroke="#2e2e2e" stroke-width="1.0" fill="#fefefe" />
<path d="M96.6,298.6 C98.6,303 98.8,314 97,320.8 M100.4,297.6 C102.6,302 102.8,313 101,320 M104.2,296.4 C106.6,301 106.8,312 105,318.8 M108,295.4 C110.6,300 110.8,310.6 109,317.4" stroke="#2e2e2e" stroke-width="0.9" fill="none" />
<path d="M92.6,311 L93,319 M97.6,313.6 L97.8,318.6 M101.8,312.6 L102,317.6" stroke="#222" stroke-width="1.7" fill="none" />
<path d="M45,300 L40,304.4 L31.2,308.7 C28.6,312 27.8,316 28.2,319.3 L29.2,330.4 L32.4,337.2 L32.4,352.8 L39.1,357.3 L52.5,359.5 L63.7,355.1 L64.8,343.9 L69.3,345 L74.9,341.6 L77.2,334.9 L80,320 L60,300 Z" stroke="#2e2e2e" stroke-width="1.1" fill="#fefefe" />
<path d="M45,300 L53.7,291.9 Q56,290 60,290.6 L72.5,289.4 L83.7,293.7 L91.9,306.2 L91.4,322 L86.1,333 L83.7,335.6 L79.4,337.2 L76,332.7 L70.4,326 C70.6,318 69.6,308 61.5,301.6 C57,298.6 51,298.4 45,300 Z" stroke="#2e2e2e" stroke-width="1.15" fill="#fefefe" />
<path d="M67.5,292.5 C71,294.4 74,297.6 75,301.2 C76.6,306 76.6,312 76.2,317.5 C76.2,322 77,326 78.7,327.5" stroke="#2e2e2e" stroke-width="0.9" fill="none" />
<path d="M51.9,296.2 C55,295.6 58.6,296.6 61.2,298.7 C65,301.6 68,305 70,308.7 C72,312.6 73,317 73.7,321.2" stroke="#2e2e2e" stroke-width="0.8" fill="none" />
<path d="M72.5,289.4 L75,298.7 L88,297 M75,298.7 L80,313 L92,310 M80,313 L79.6,328 L79.4,337.2 M79.6,328 L88.6,328" stroke="#2e2e2e" stroke-width="0.9" fill="none" />
<path d="M34.6,314.8 C33,319 33,324 33.5,328.2 C34.6,332 36.6,334.4 39.1,336" stroke="#2e2e2e" stroke-width="0.85" fill="none" />
<path d="M41.3,310.3 C44.6,313 46,317 45.8,321.5 L45.8,335" stroke="#2e2e2e" stroke-width="0.85" fill="none" />
<path d="M32.4,337.2 C36,340 42,341.6 48,341.6 C54,341.6 60,340 63.4,337.6" stroke="#2e2e2e" stroke-width="0.9" fill="none" />
<path d="M34,347 L47.6,352 L62.8,347 M38.8,349 L39.1,357.3 M48.8,352.2 L50,359.2 M60,348.2 L60.6,356.4" stroke="#2e2e2e" stroke-width="0.9" fill="none" />
<path d="M46.2,329 L51.2,321.6 L62.5,318.9 L64,321.2 L54,324.6 L49.6,331.4 Z" stroke="#2e2e2e" stroke-width="0.9" fill="#fefefe" />
<path d="M47,332.8 L51.6,334.8 L54.6,332.8" stroke="#2e2e2e" stroke-width="0.8" fill="none" />
<path d="M55.9,329.3 L63.7,323.7 L72.7,327.1 L77.2,334.9 L74.9,341.6 L69.3,345 L63.7,341.6 Z" stroke="#2e2e2e" stroke-width="1.0" fill="#fefefe" />
<path d="M63.7,323.7 L59.4,331.6 L66.6,340.6 L69.3,345" stroke="#2e2e2e" stroke-width="0.8" fill="none" />
<path d="M67.5,332.7 C69,330.2 72.6,330.2 75,332.8 C76,336.2 75,340 72.6,342.6 L69.4,339.6 C68,337.6 67.5,335 67.5,332.7 Z" stroke="#2e2e2e" stroke-width="0.9" fill="#fefefe" />
<path d="M71,333.2 L72.6,342.6" stroke="#2e2e2e" stroke-width="0.8" fill="none" />
</g>
<g id="logo">
<path d="M457,326 L501,326 Q512.8,326 512.8,338 L512.8,361 Q512.8,372.9 501,372.9 L457.6,372.9 Q446,372.6 445.5,360.2 L445.6,358.9 L486.6,358.8 L486.8,365.6 L504.2,348.8 L486.4,331.4 L486.4,337.9 L445.6,337.9 L445.5,337 Q446.4,326.2 457,326 Z" stroke="#3a3a3a" stroke-width="0.6" fill="#3a3a3a" />
<text transform="translate(514.0,363.1) scale(1.025,0.962)" x="0" y="0" font-size="50" font-weight="700" fill="#3a3a3a" stroke="#3a3a3a" stroke-width="2.4" stroke-linejoin="miter">D</text>
<text transform="translate(547.7,363.1) scale(1.075,0.962)" x="0" y="0" font-size="50" font-weight="700" fill="#3a3a3a" stroke="#3a3a3a" stroke-width="2.4" stroke-linejoin="miter">H</text>
<text transform="translate(583.6,363.1) scale(1.0,0.962)" x="0" y="0" font-size="50" font-weight="700" fill="#3a3a3a" stroke="#3a3a3a" stroke-width="2.4" stroke-linejoin="miter">S</text>
</g>
</g>
</svg>
</body></html>
